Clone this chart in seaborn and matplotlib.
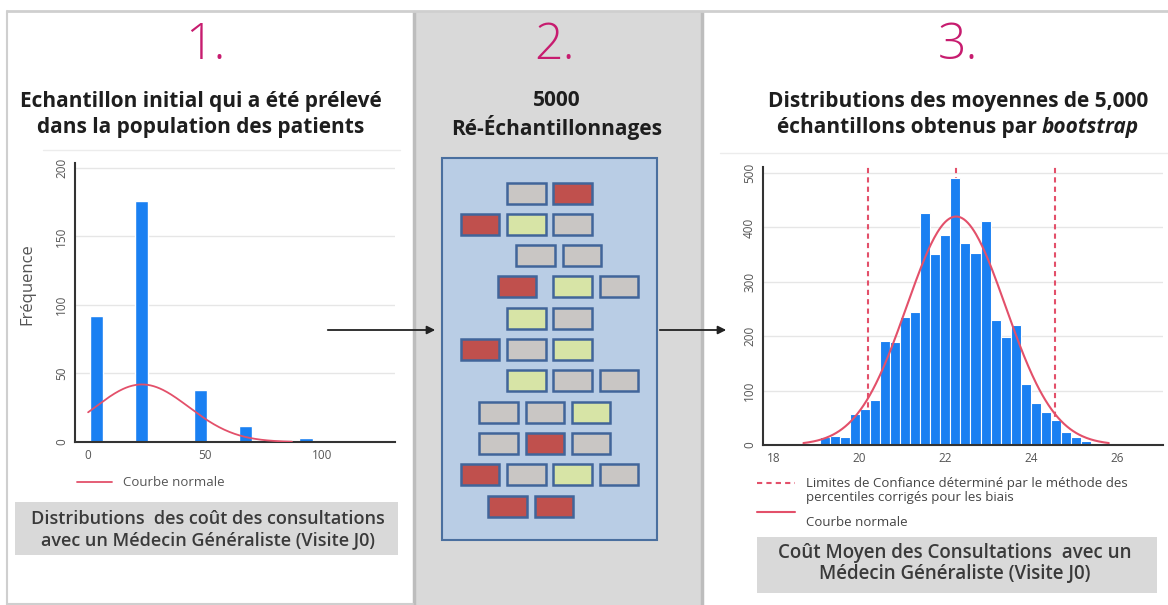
import numpy as np
import pandas as pd
import matplotlib
matplotlib.use("Agg")
import matplotlib.pyplot as plt
from matplotlib.patches import Rectangle
import seaborn as sns

# --- 1. échantillon initial : coût des consultations et fréquences ---
cout_consult = [3.6, 22.8, 48.1, 67.2, 93.0]
freq_consult = [92, 176, 38, 12, 3]
# courbe normale (moyenne, écart-type, hauteur du pic, étendue)
norm1 = dict(moy=23.0, et=20.0, pic=42.0, debut=0.0, fin=87.0)

# --- 3. moyennes bootstrap (5000 rééchantillonnages) ---
boot_debut, boot_largeur = 19.08, 0.2336
boot_effectifs = [14, 17, 14, 57, 67, 83, 191, 189, 235, 245, 426, 351, 386, 490,
                  372, 353, 412, 229, 198, 221, 112, 78, 61, 46, 24, 15, 8, 4]
ic_limites = [20.2, 22.25, 24.55]
norm3 = dict(moy=22.25, et=1.15, pic=420.0, debut=18.7, fin=25.8)

# --- 2. schéma : (position, couleur) des échantillons par ligne ---
lignes_schema = [
    [(1, "G"), (2, "R")],
    [(0, "R"), (1, "V"), (2, "G")],
    [(1.2, "G"), (2.2, "G")],
    [(0.8, "R"), (2, "V"), (3, "G")],
    [(1, "V"), (2, "G")],
    [(0, "R"), (1, "G"), (2, "V")],
    [(1, "V"), (2, "G"), (3, "G")],
    [(0.4, "G"), (1.4, "G"), (2.4, "V")],
    [(0.4, "G"), (1.4, "R"), (2.4, "G")],
    [(0, "R"), (1, "G"), (2, "V"), (3, "G")],
    [(0.6, "R"), (1.6, "R")],
]
couleurs_schema = {"G": "#c9c6c4", "R": "#c0504d", "V": "#d7e4a6"}

sns.set_style("white")
plt.rcParams["font.family"] = ["Open Sans", "DejaVu Sans"]

W, H = 1168, 605
BLEU = "#1a80f2"
ROUGE = "#e3506a"
MAGENTA = "#c71c6f"
GRIS_TXT = "#555555"

fig = plt.figure(figsize=(W / 100, H / 100), dpi=100)
bg = fig.add_axes([0, 0, 1, 1])
bg.set_xlim(0, W)
bg.set_ylim(H, 0)
bg.axis("off")


def axes_px(x0, y0, x1, y1):
    return fig.add_axes([x0 / W, 1 - y1 / H, (x1 - x0) / W, (y1 - y0) / H])


# panneaux
bg.add_patch(Rectangle((413, 12), 288, 600, fc="#d9d9d9", ec="none", zorder=0))
bg.plot([413.5, 413.5], [12, 605], color="#bdbdbd", lw=2.5, zorder=1)
bg.plot([701.5, 701.5], [12, 605], color="#bdbdbd", lw=2.5, zorder=1)
bg.plot([7, W], [11, 11], color="#cfcfcf", lw=2, zorder=1)
bg.plot([7, 7], [11, 605], color="#cfcfcf", lw=1.5, zorder=1)
bg.plot([7, 413], [604, 604], color="#cfcfcf", lw=1.5, zorder=1)
bg.plot([43, 400], [150, 150], color="#ececec", lw=1, zorder=1)
bg.plot([720, W], [153, 153], color="#ececec", lw=1, zorder=1)

# titres numérotés
for x, num in [(205, "1."), (555, "2."), (958, "3.")]:
    bg.text(x, 46, num, fontsize=36, color=MAGENTA, ha="center", va="center",
            fontweight="light")

TAILLE_ST = 15
sous_titre = dict(fontsize=TAILLE_ST, fontweight="bold", color="#1e1e1e", ha="center", va="center")
bg.text(201, 102, "Echantillon initial qui a été prélevé", **sous_titre)
bg.text(201, 128, "dans la population des patients", **sous_titre)
bg.text(557, 100, "5000", **sous_titre)
bg.text(557, 128, "Ré-Échantillonnages", **sous_titre)
bg.text(958, 102, "Distributions des moyennes de 5,000", **sous_titre)

# ligne avec "bootstrap" en italique, centrée
t1 = bg.text(0, 128, "échantillons obtenus par ", fontsize=TAILLE_ST, fontweight="bold",
             color="#1e1e1e", ha="left", va="center")
t2 = bg.text(0, 128, "bootstrap", fontsize=TAILLE_ST, fontweight="bold", fontstyle="italic",
             color="#1e1e1e", ha="left", va="center")
rend = fig.canvas.get_renderer()
w1 = t1.get_window_extent(rend).width
w2 = t2.get_window_extent(rend).width
x_debut = 958 - (w1 + w2) / 2
t1.set_x(x_debut)
t2.set_x(x_debut + w1)

# --- schéma central ---
bg.add_patch(Rectangle((442, 157.5), 215, 382.5, fc="#b9cde5", ec="#4a6f9f", lw=1.5, zorder=2))
for i, ligne in enumerate(lignes_schema):
    y = 193 + 31.3 * i
    for pos, c in ligne:
        x = 460.7 + 46.3 * pos
        bg.add_patch(Rectangle((x, y - 10.5), 38.5, 21, fc=couleurs_schema[c],
                               ec="#41659a", lw=1.8, zorder=3))

# flèches
fleche = dict(arrowstyle="-|>", color="#222222", lw=1.3, mutation_scale=12)
bg.annotate("", xy=(438, 330), xytext=(325, 330), arrowprops=fleche, zorder=4)
bg.annotate("", xy=(729, 330), xytext=(657, 330), arrowprops=fleche, zorder=4)


def style_stata(ax):
    ax.set_facecolor("none")
    for s in ["top", "right"]:
        ax.spines[s].set_visible(False)
    for s in ["left", "bottom"]:
        ax.spines[s].set_color("#333333")
        ax.spines[s].set_linewidth(1.5)
    ax.tick_params(axis="both", direction="out", length=3, width=1, color="#333333",
                   labelsize=8.5, labelcolor=GRIS_TXT, pad=2)
    for lab in ax.get_yticklabels():
        lab.set_rotation(90)
        lab.set_va("center")
    ax.grid(axis="y", color="#e6e6e6", lw=1)
    ax.set_axisbelow(True)


# --- graphique 1 ---
ax1 = axes_px(75, 163, 395, 442)
ax1.bar(cout_consult, freq_consult, width=5.6, color=BLEU, zorder=2)
x1 = np.linspace(norm1["debut"], norm1["fin"], 200)
y1 = norm1["pic"] * np.exp(-0.5 * ((x1 - norm1["moy"]) / norm1["et"]) ** 2)
sns.lineplot(x=x1, y=y1, ax=ax1, color=ROUGE, lw=1.3, zorder=3)
ax1.set_xlim(-5.6, 131)
ax1.set_ylim(0, 203.6)
ax1.set_xticks([0, 50, 100])
ax1.set_yticks([0, 50, 100, 150, 200])
style_stata(ax1)
ax1.set_xlabel("")
ax1.set_ylabel("")
bg.text(27, 284, "Fréquence", rotation=90, fontsize=12, color=GRIS_TXT,
        ha="center", va="center")

bg.plot([77, 112], [482, 482], color=ROUGE, lw=1.3)
bg.text(123, 482, "Courbe normale", fontsize=9.5, color=GRIS_TXT, va="center")

bg.add_patch(Rectangle((15, 502), 383, 53, fc="#d9d9d9", ec="none", zorder=1))
legende = dict(fontsize=13, fontweight="semibold", color="#3a3a3a", ha="center", va="center")
bg.text(208, 519, "Distributions  des coût des consultations", **legende)
bg.text(208, 540, "avec un Médecin Généraliste (Visite J0)", **legende)

# --- graphique 3 ---
ax3 = axes_px(763, 167, 1163, 445)
bords = (boot_debut + boot_largeur * np.arange(len(boot_effectifs) + 1)).tolist()
boot = pd.DataFrame({
    "moyenne": [b + boot_largeur / 2 for b in bords[:-1]],
    "effectif": boot_effectifs,
})
for v in ic_limites:
    ax3.axvline(v, color=ROUGE, lw=1.5, ls=(0, (2.5, 2)), zorder=1)
sns.histplot(data=boot, x="moyenne", weights="effectif", bins=bords, ax=ax3,
             color=BLEU, edgecolor="white", linewidth=0.8, alpha=1, zorder=2)
x3 = np.linspace(norm3["debut"], norm3["fin"], 300)
y3 = norm3["pic"] * np.exp(-0.5 * ((x3 - norm3["moy"]) / norm3["et"]) ** 2)
sns.lineplot(x=x3, y=y3, ax=ax3, color=ROUGE, lw=1.5, zorder=3)
ax3.set_xlim(17.76, 27.06)
ax3.set_ylim(0, 511)
ax3.set_xticks([18, 20, 22, 24, 26])
ax3.set_yticks([0, 100, 200, 300, 400, 500])
style_stata(ax3)
ax3.set_xlabel("")
ax3.set_ylabel("")

petit = dict(fontsize=9.5, color="#444444", va="center")
bg.plot([757, 795], [483, 483], color=ROUGE, lw=1.5, ls=(0, (2.5, 2)))
bg.text(806, 483, "Limites de Confiance déterminé par le méthode des", **petit)
bg.text(806, 498, "percentiles corrigés pour les biais", **petit)
bg.plot([757, 795], [512, 512], color=ROUGE, lw=1.5)
bg.text(806, 523, "Courbe normale", **petit)

bg.add_patch(Rectangle((757, 537), 400, 56, fc="#d9d9d9", ec="none", zorder=1))
legende3 = dict(fontsize=13.5, fontweight="semibold", color="#3a3a3a", ha="center", va="center")
bg.text(955, 553, "Coût Moyen des Consultations  avec un", **legende3)
bg.text(955, 574, "Médecin Généraliste (Visite J0)", **legende3)

fig.savefig("out.png", dpi=100)
plt.close(fig)
